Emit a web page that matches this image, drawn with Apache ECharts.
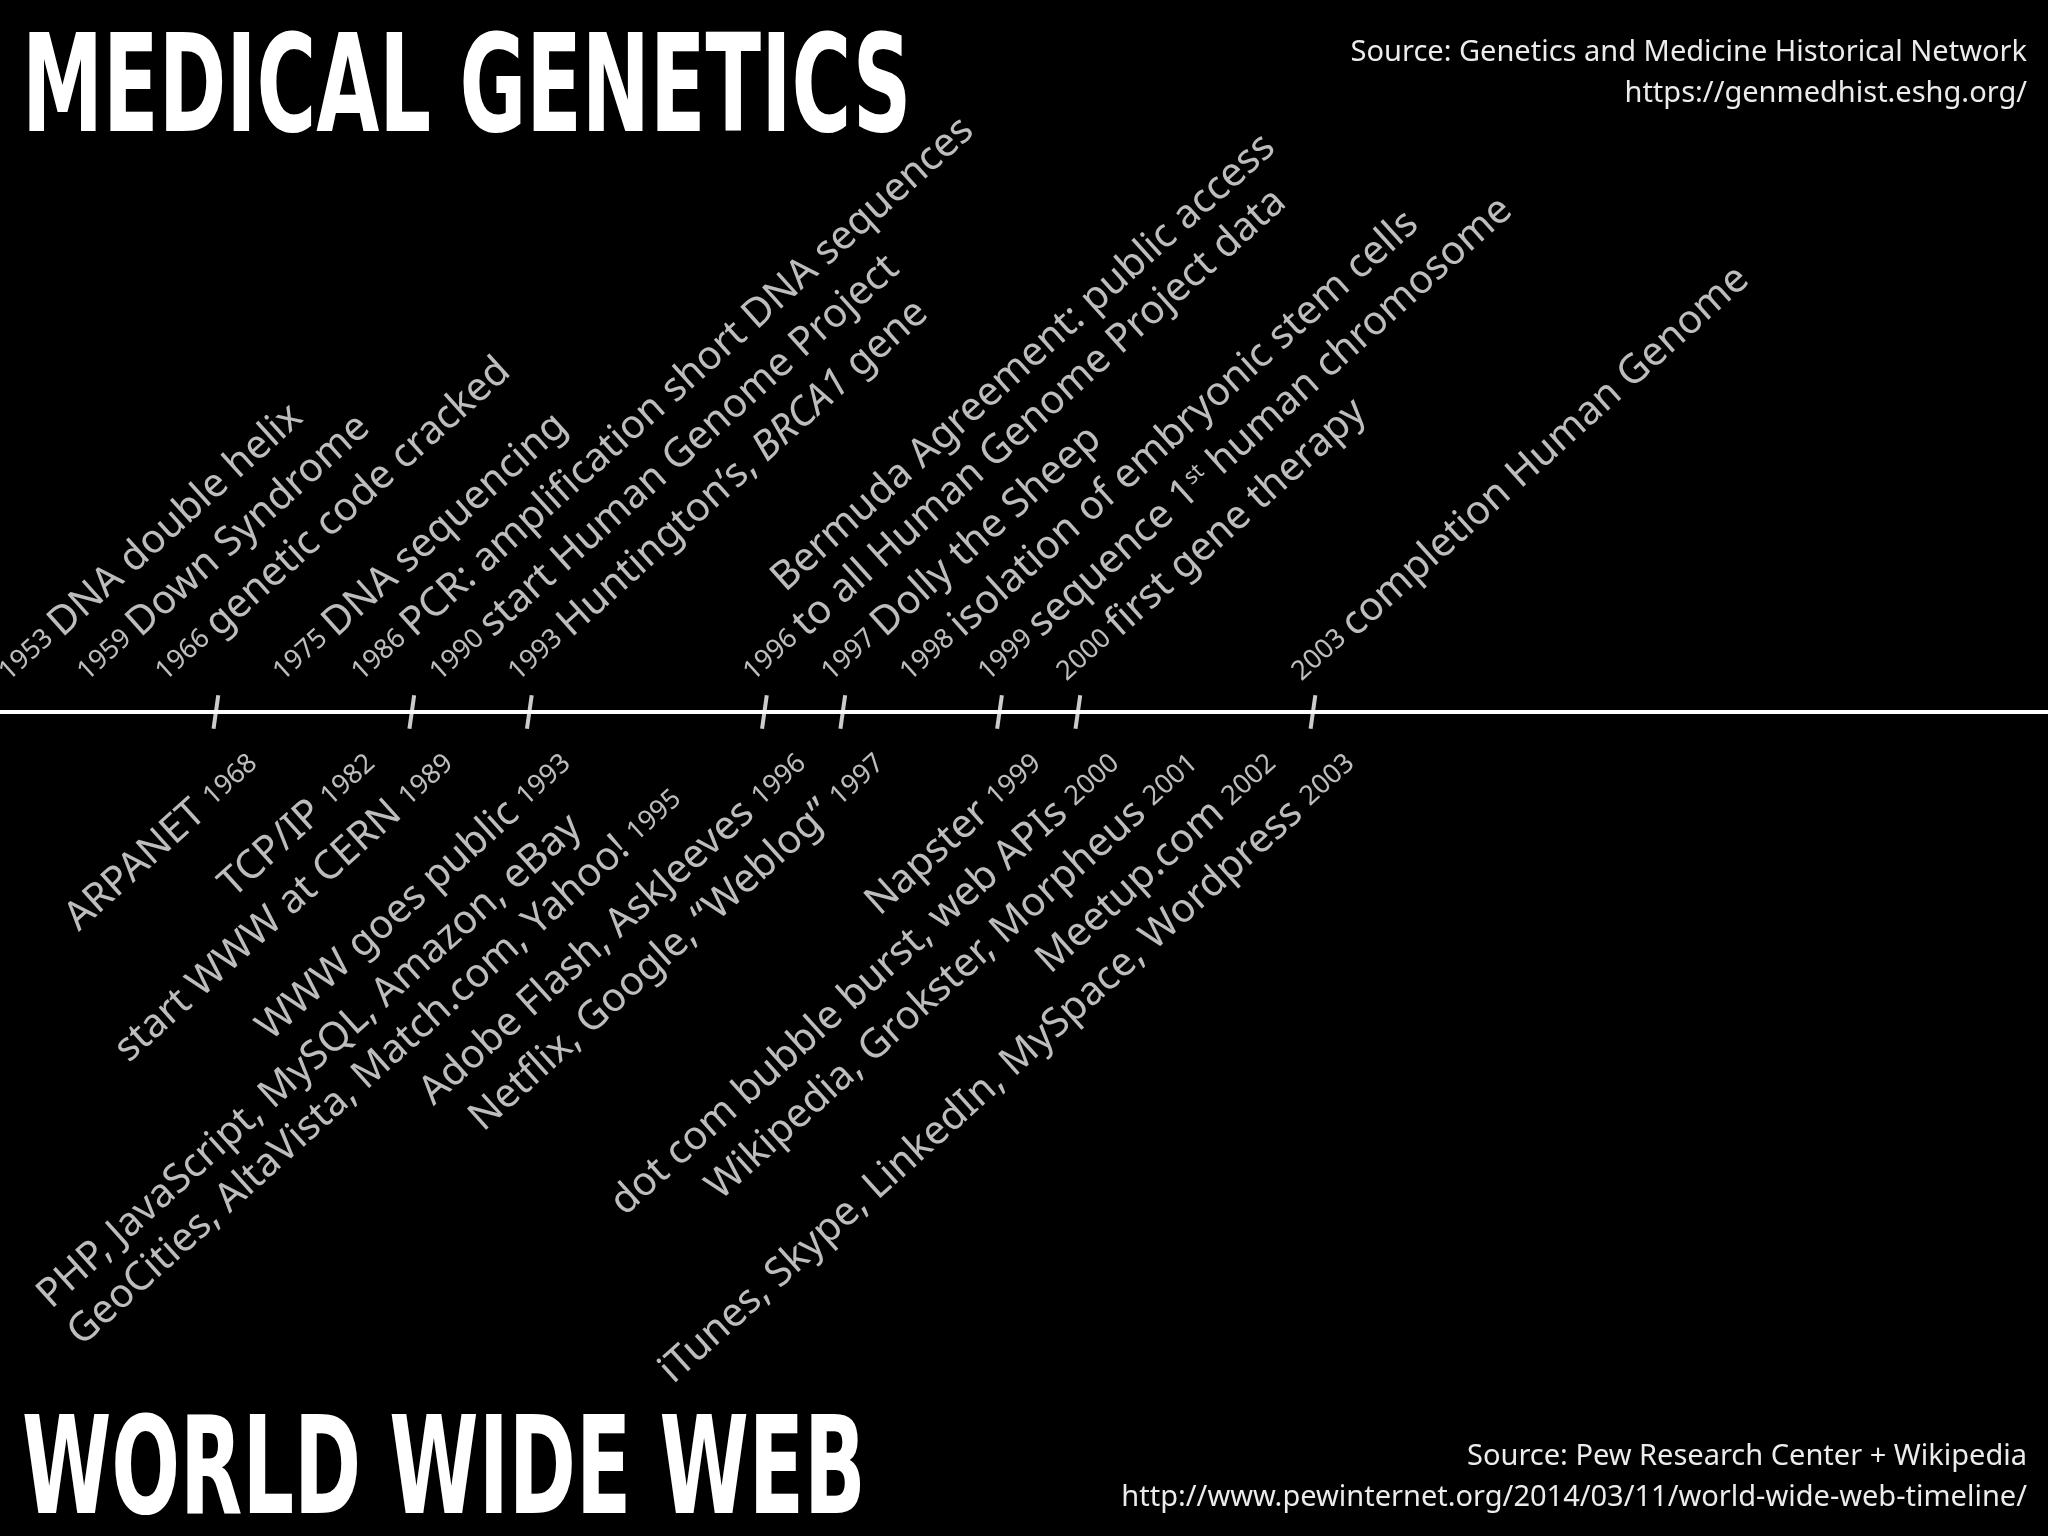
<!DOCTYPE html>
<html><head><meta charset="utf-8">
<script src="https://cdn.jsdelivr.net/npm/echarts@6/dist/echarts.min.js"></script>
<style>html,body{margin:0;background:#000}#c{width:2048px;height:1536px}</style>
</head><body><div id="c"></div>
<script>
// compressed timeline: slot order of the years (null = empty slot)
const timeline = [1953,null,1959,null,1966,1968,null,1975,1982,1986,1989,1990,null,1993,null,1995,null,null,null,1996,null,1997,null,1998,null,1999,null,2000,null,2001,null,2002,null,2003];
const genYears = [1953,1959,1966,1975,1986,1990,1993,1996,1997,1998,1999,2000,2003];
const genEvents = [
 "{t|DNA double helix}","{t|Down Syndrome}","{t|genetic code cracked}","{t|DNA sequencing}",
 "{t|PCR: amplification short DNA sequences}","{t|start Human Genome Project}",
 "{t|Huntington’s, }{i|BRCA1}{t| gene}",
 "{t|to all Human Genome Project data}","{t|Dolly the Sheep}","{t|isolation of embryonic stem cells}",
 "{t|sequence 1}{s|st}{t| human chromosome}","{t|first gene therapy}","{t|completion Human Genome}"];
const genPrefix = {1996:"{p|        }{t|Bermuda Agreement: public access}\n"};
const webYears = [1968,1982,1989,1993,1995,1996,1997,1999,2000,2001,2002,2003];
const webEvents = ["ARPANET","TCP/IP","start WWW at CERN","WWW goes public",
 "GeoCities, AltaVista, Match.com, Yahoo!","Adobe Flash, AskJeeves","Netflix, Google, “Weblog”",
 "Napster","dot com bubble burst, web APIs","Wikipedia, Grokster, Morpheus","Meetup.com",
 "iTunes, Skype, LinkedIn, MySpace, Wordpress"];
const webPrefix = {1995:"{t|PHP, JavaScript, MySQL, Amazon, eBay}{p|         }\n"};
const tickYears = [1968,1989,1993,1996,1997,1999,2000,2003];

const F = "Noto Sans", C = "#ececec";
const rich = {
 t:{fontFamily:F,fontSize:40,color:C,lineHeight:48},
 i:{fontFamily:F,fontSize:40,color:C,fontStyle:"italic",lineHeight:48},
 y:{fontFamily:F,fontSize:27,color:C,lineHeight:48},
 s:{fontFamily:F,fontSize:22,color:C,padding:[0,0,16,0],lineHeight:48},
 p:{fontFamily:F,fontSize:40,color:"rgba(0,0,0,0)",lineHeight:48}
};
const pos = y => timeline.indexOf(y);
const chart = echarts.init(document.getElementById('c'));
chart.setOption({
 backgroundColor:"#000",
 animation:false,
 grid:{left:0,right:0,top:662,height:100},
 xAxis:{type:'value',min:-0.51,max:51.76,axisLine:{onZero:true,lineStyle:{color:'#fff',width:4}},
   axisTick:{show:false},axisLabel:{show:false},splitLine:{show:false}},
 yAxis:{type:'value',min:-1,max:1,show:false},
 series:[
  {type:'scatter',symbol:'rect',symbolSize:[4,34],symbolRotate:-8,itemStyle:{color:'#fff'},
   data:tickYears.map(y=>[pos(y),0])},
  {type:'scatter',symbolSize:1,itemStyle:{color:'rgba(0,0,0,0)'},
   label:{show:true,position:[0,-18],align:'left',verticalAlign:'bottom',rotate:42,rich:rich,
     formatter:p=>(genPrefix[genYears[p.dataIndex]]||"")+"{y|"+genYears[p.dataIndex]+" }"+genEvents[p.dataIndex]},
   data:genYears.map(y=>[pos(y),0])},
  {type:'scatter',symbolSize:1,itemStyle:{color:'rgba(0,0,0,0)'},
   label:{show:true,position:[22,30],align:'right',verticalAlign:'top',rotate:42,rich:rich,
     formatter:p=>(webPrefix[webYears[p.dataIndex]]||"")+"{t|"+webEvents[p.dataIndex]+" }{y|"+webYears[p.dataIndex]+"}"},
   data:webYears.map(y=>[pos(y),0])}
 ],
 graphic:[
  {type:'text',left:22,top:28,scaleY:1.3,scaleX:0.87,style:{text:"MEDICAL GENETICS",fill:'#fff',font:"bold 104px 'DejaVu Sans Condensed'"}},
  {type:'text',left:22,top:1410,scaleY:1.3,scaleX:0.865,style:{text:"WORLD WIDE WEB",fill:'#fff',font:"bold 104px 'DejaVu Sans Condensed'"}},
  {type:'text',x:2027,y:32,style:{text:"Source: Genetics and Medicine Historical Network\nhttps://genmedhist.eshg.org/",fill:C,font:"29px 'Noto Sans'",align:'right',textAlign:'right',lineHeight:41}},
  {type:'text',x:2027,y:1436,style:{text:"Source: Pew Research Center + Wikipedia\nhttp://www.pewinternet.org/2014/03/11/world-wide-web-timeline/",fill:C,font:"29px 'Noto Sans'",align:'right',textAlign:'right',lineHeight:41}}
 ]
});
</script></body></html>
